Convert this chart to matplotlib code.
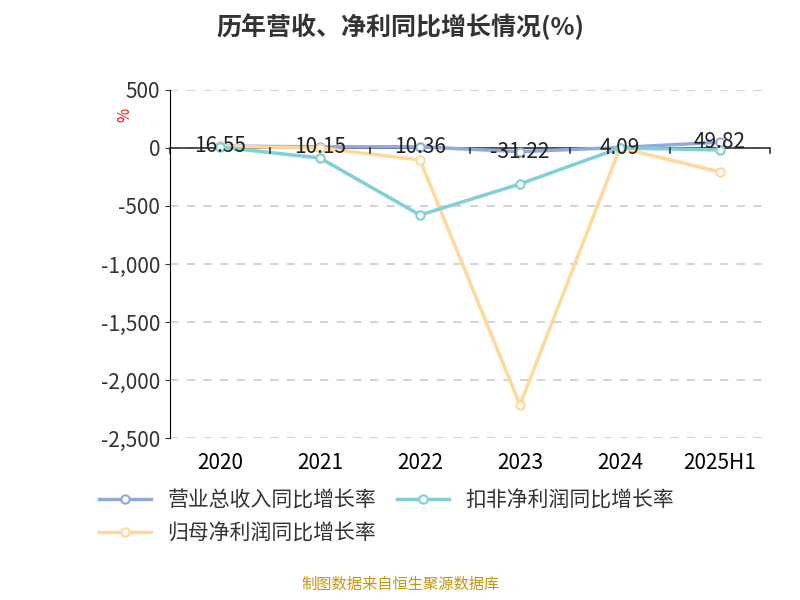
import matplotlib
matplotlib.use('Agg')
import matplotlib.pyplot as plt
from matplotlib.ticker import FuncFormatter

plt.rcParams['font.family'] = ['Noto Sans CJK SC', 'DejaVu Sans']

years = ['2020', '2021', '2022', '2023', '2024', '2025H1']
revenue = [16.55, 10.15, 10.36, -31.22, 4.09, 49.82]
net_profit = [15, 0, -103, -2215, 2, -207]
deducted = [8, -86, -578, -310, 0, -17]

c_rev = '#8faadc'
c_net = '#ffd999'
c_ded = '#7fd1d6'

fig = plt.figure(figsize=(8, 6), dpi=100)
ax = fig.add_axes([0.2125, 0.27, 0.75, 0.58])
x = list(range(len(years)))
kw = dict(lw=2.5, marker='o', ms=6, markerfacecolor='white', markeredgewidth=1.5)
ax.plot(x, revenue, color=c_rev, label='营业总收入同比增长率', **kw)
ax.plot(x, net_profit, color=c_net, label='归母净利润同比增长率', **kw)
ax.plot(x, deducted, color=c_ded, label='扣非净利润同比增长率', **kw)
for i, v in enumerate(revenue):
    ax.text(i, v, f'{v:.2f}', ha='center', va='center', fontsize=15, color='#222222')

ax.set_xlim(-0.5, len(years) - 0.5)
ax.set_ylim(-2500, 500)
ax.set_yticks(range(-2500, 501, 500))
ax.yaxis.set_major_formatter(FuncFormatter(lambda v, p: f'{int(v):,}'))
ax.grid(axis='y', ls=(0, (5, 5)), color='#cccccc', lw=1.2)
ax.set_axisbelow(True)
for s in ['top', 'right', 'bottom']:
    ax.spines[s].set_visible(False)
ax.axhline(0, color='#333333', lw=1.2, zorder=1)
ax.set_xticks(x)
ax.set_xticklabels(years)
ax.tick_params(axis='x', length=0, labelsize=15, pad=10)
ax.tick_params(axis='y', labelsize=15, colors='#333333')
for xt in [i - 0.5 for i in range(len(years) + 1)]:
    ax.plot([xt, xt], [0, -40], color='#333333', lw=1.2, clip_on=False)
ax.text(-0.09, 0.92, '%', transform=ax.transAxes, color='red', fontsize=11, rotation=90)

fig.text(0.5, 0.955, '历年营收、净利同比增长情况(%)', ha='center', va='center',
         fontsize=18, fontweight='bold', color='#333333')
fig.legend(loc='upper left', bbox_to_anchor=(0.1, 0.215), ncol=2, frameon=False,
           fontsize=15, handlelength=2.5, columnspacing=1.0, labelcolor='#333333')
fig.text(0.5, 0.018, '制图数据来自恒生聚源数据库', ha='center', fontsize=11, color='#c8960c')
fig.savefig('out.png')
